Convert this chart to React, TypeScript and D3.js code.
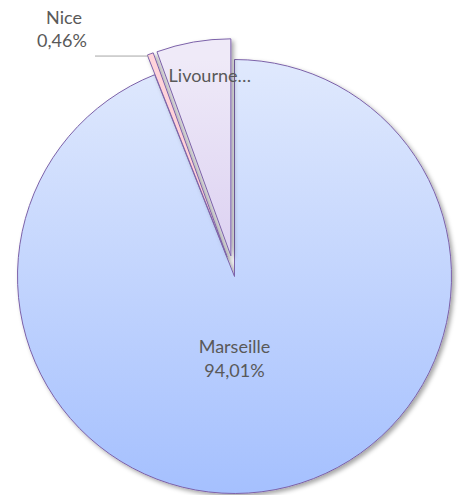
import React from "react";
import * as d3 from "d3";

const cities = ["Marseille", "Nice", "Livourne"];
const shares = [94.01, 0.46, 5.53];
const labels = ["Marseille\n94,01%", "Nice\n0,46%", "Livourne…"];

const colorsTop = ["#e0e9fd", "#ffd4da", "#efeaf8"];
const colorsBottom = ["#a5c0fe", "#ffbfc8", "#c5b3ea"];
const explode = [0, 21, 21];

const W = 460;
const H = 495;
const cx = 234.5;
const cy = 276.5;
const r = 217;

export default function App() {
  const pie = d3
    .pie<number>()
    .sort(null)
    .value((d) => d);
  const arcs = pie(shares);
  const arc = d3.arc<d3.PieArcDatum<number>>().innerRadius(0).outerRadius(r);

  const offsetOf = (i: number) => {
    const a = arcs[i];
    const mid = (a.startAngle + a.endAngle) / 2;
    const [dx, dy] = d3.pointRadial(mid, explode[i]);
    return [dx, dy];
  };

  const [nx, ny] = offsetOf(1);
  const niceCorner = d3.pointRadial(arcs[1].startAngle, r);
  const [lx, ly] = offsetOf(2);
  const livPos = d3.pointRadial(arcs[2].startAngle + 0.004, 185);
  const marPos = d3.pointRadial(Math.PI, 86);

  return (
    <svg
      width={W}
      height={H}
      style={{ position: "absolute", left: 0, top: 0, fontFamily: "Lato, 'Open Sans', sans-serif" }}
    >
      <defs>
        {cities.map((c, i) => {
          const [, dy] = offsetOf(i);
          return (
            <linearGradient
              key={c}
              id={`g${i}`}
              gradientUnits="userSpaceOnUse"
              x1={0}
              y1={-r - dy}
              x2={0}
              y2={r - dy}
            >
              <stop offset="0%" stopColor={colorsTop[i]} />
              <stop offset="100%" stopColor={colorsBottom[i]} />
            </linearGradient>
          );
        })}
        <filter id="sh" x="-10%" y="-10%" width="130%" height="130%">
          <feDropShadow dx={2.5} dy={2.5} stdDeviation={2} floodColor="#000" floodOpacity={0.35} />
        </filter>
      </defs>
      <rect width={W} height={H} fill="#fff" />
      {arcs.map((a, i) => {
        const [dx, dy] = offsetOf(i);
        return (
          <path
            key={cities[i]}
            d={arc(a) || ""}
            transform={`translate(${cx + dx},${cy + dy})`}
            fill={`url(#g${i})`}
            stroke="#7c62a9"
            strokeWidth={1}
            filter="url(#sh)"
          />
        );
      })}
      {/* leader line for Nice */}
      <polyline
        points={`${95},${cy + ny + niceCorner[1] + 1} ${cx + nx + niceCorner[0] + 1},${cy + ny + niceCorner[1] + 1}`}
        fill="none"
        stroke="#a6a6a6"
        strokeWidth={1}
      />
      <g fill="#595959" fontSize={18} textAnchor="middle">
        <text x={cx + marPos[0]} y={cy + marPos[1] - 10}>
          {labels[0].split("\n")[0]}
        </text>
        <text x={cx + marPos[0]} y={cy + marPos[1] + 14}>
          {labels[0].split("\n")[1]}
        </text>
        <text x={64} y={24}>
          {labels[1].split("\n")[0]}
        </text>
        <text x={62} y={47}>
          {labels[1].split("\n")[1]}
        </text>
        <text x={cx + lx + livPos[0]} y={cy + ly + livPos[1]} textAnchor="start">
          {labels[2]}
        </text>
      </g>
    </svg>
  );
}
